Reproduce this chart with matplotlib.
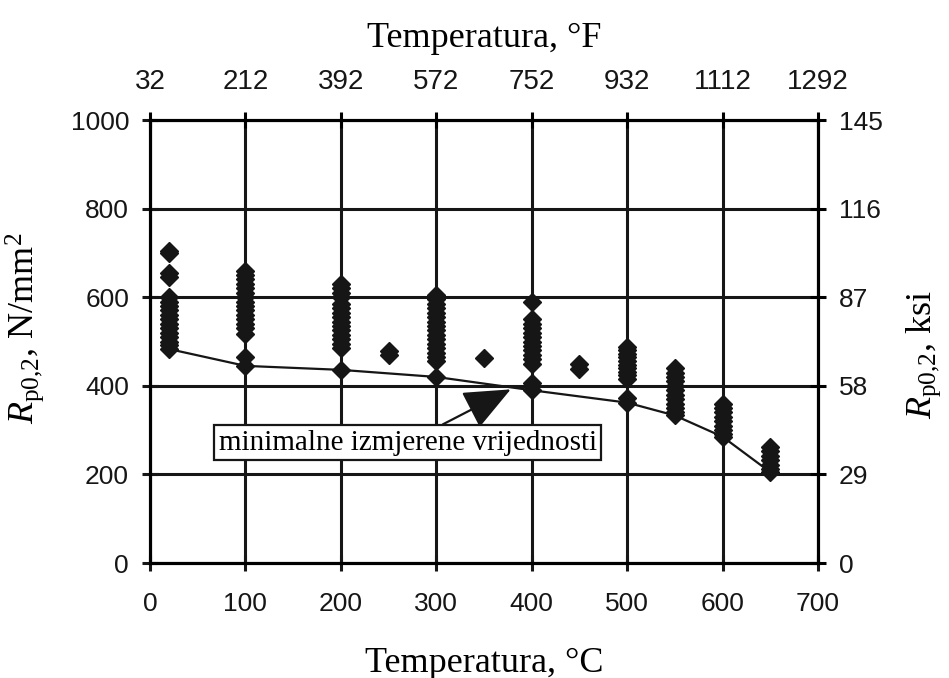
import matplotlib
matplotlib.use("Agg")
import matplotlib.pyplot as plt

# yield strength Rp0,2 [N/mm2], per test temperature [°C]
temps = [20, 100, 200, 250, 300, 350, 400, 450, 500, 550, 600, 650]
r_20 = [705, 700, 655, 645, 600, 590, 580, 570, 560, 550, 540, 530, 520, 510, 500, 492, 483]
r_100 = [660, 650, 640, 630, 620, 610, 600, 590, 580, 570, 560, 550, 540, 530, 518, 465, 445]
r_200 = [630, 620, 610, 600, 585, 575, 565, 555, 545, 535, 525, 515, 505, 495, 485, 436]
r_250 = [478, 470]
r_300 = [605, 595, 585, 575, 565, 555, 545, 535, 525, 515, 505, 495, 485, 475, 465, 456, 420]
r_350 = [462]
r_400 = [590, 550, 540, 530, 520, 510, 500, 490, 480, 470, 460, 450, 406, 390]
r_450 = [450, 437]
r_500 = [488, 480, 472, 464, 456, 448, 440, 432, 424, 416, 372, 362]
r_550 = [440, 430, 420, 410, 400, 390, 380, 370, 360, 350, 340, 333]
r_600 = [360, 350, 340, 330, 320, 310, 300, 292, 285]
r_650 = [262, 252, 242, 232, 222, 212, 205]
r_all = [r_20, r_100, r_200, r_250, r_300, r_350, r_400, r_450, r_500, r_550, r_600, r_650]

# lower bound line (minimum measured values)
min_t = [20, 100, 200, 300, 400, 500, 550, 600, 650]
min_r = [483, 445, 436, 420, 390, 362, 333, 285, 205]

c_ticks = [0, 100, 200, 300, 400, 500, 600, 700]
f_labels = ["32", "212", "392", "572", "752", "932", "1112", "1292"]
n_ticks = [0, 200, 400, 600, 800, 1000]
ksi_labels = ["0", "29", "58", "87", "116", "145"]

plt.rcParams["font.family"] = ["Liberation Sans", "DejaVu Sans"]
plt.rcParams["mathtext.fontset"] = "custom"
plt.rcParams["mathtext.rm"] = "Liberation Serif"
plt.rcParams["mathtext.it"] = "Liberation Serif:italic"

SERIF = ["Liberation Serif", "DejaVu Serif"]
LW = 2.2
INK = "#161616"

fig = plt.figure(figsize=(9.49, 6.78), dpi=100)
ax = fig.add_axes([0.158, 0.1696, 0.704, 0.6534])

for t, vals in zip(temps, r_all):
    ax.plot([t] * len(vals), vals, linestyle="none", marker="D", ms=9,
            color=INK, zorder=4)
ax.plot(min_t, min_r, color=INK, lw=1.6, zorder=3)

ax.set_xlim(0, 700)
ax.set_ylim(0, 1000)
ax.set_xticks(c_ticks)
ax.set_yticks(n_ticks)
ax.grid(True, color=INK, lw=LW)
ax.set_axisbelow(True)
for s in ax.spines.values():
    s.set_linewidth(LW)
    s.set_color(INK)
ax.tick_params(axis="both", direction="inout", length=12, width=LW,
               labelsize=19, color=INK, labelcolor=INK)
ax.tick_params(axis="x", pad=15)
ax.tick_params(axis="y", pad=9)

ax.set_xlabel("Temperatura, °C", family=SERIF, fontsize=26, labelpad=22)
ax.set_ylabel(r"$R_{\mathrm{p0{,}2}}$, N/mm$^2$", family=SERIF, fontsize=26)
ax.yaxis.set_label_coords(-0.155, 0.53)

top = ax.twiny()
top.set_xlim(ax.get_xlim())
top.set_xticks(c_ticks)
top.set_xticklabels(f_labels)
top.tick_params(direction="inout", length=12, width=LW, labelsize=20, pad=12,
                labelcolor=INK)
top.set_xlabel("Temperatura, °F", family=SERIF, fontsize=26, labelpad=16)

right = ax.twinx()
right.set_ylim(ax.get_ylim())
right.set_yticks(n_ticks)
right.set_yticklabels(ksi_labels)
right.tick_params(direction="inout", length=12, width=LW, labelsize=19, pad=9,
                  labelcolor=INK)
right.set_ylabel(r"$R_{\mathrm{p0{,}2}}$, ksi", family=SERIF, fontsize=26)
right.yaxis.set_label_coords(1.13, 0.47)
for a in (top, right):
    for s in a.spines.values():
        s.set_linewidth(LW)

ax.annotate("minimalne izmjerene vrijednosti", xy=(378, 392), xytext=(270, 272),
            ha="center", va="center", family=SERIF, fontsize=21, zorder=6,
            bbox=dict(boxstyle="square,pad=0.15", fc="white", ec=INK, lw=1.6),
            arrowprops=dict(arrowstyle="-|>,head_length=1.4,head_width=0.6",
                            color=INK, lw=1.6, shrinkA=0, shrinkB=0))

fig.savefig("out.png", dpi=100)
